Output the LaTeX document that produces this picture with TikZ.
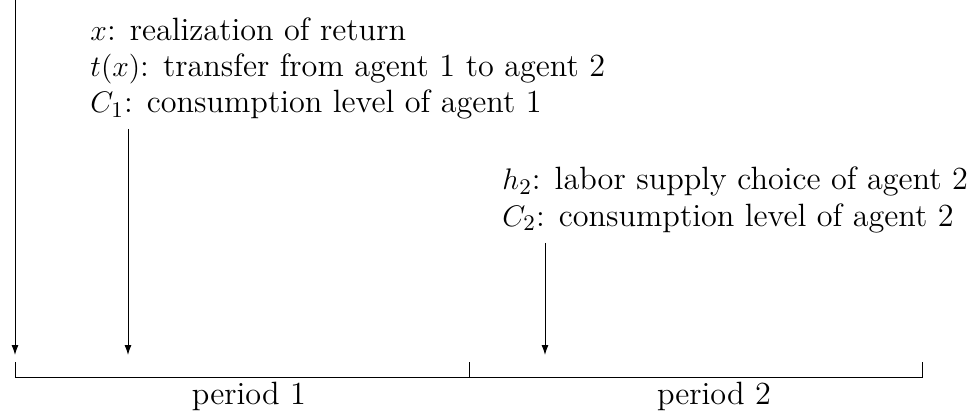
\documentclass[tikz,border=0pt]{standalone}
\usepackage{amsmath}
\usepackage{tikz}
\usetikzlibrary{positioning,arrows.meta,calc}

\begin{document}
\begin{tikzpicture}[x=0.4032pt,y=-0.4032pt,
  lab/.style={font=\fontsize{13}{16}\selectfont,inner sep=0pt,anchor=base west},
  per/.style={font=\fontsize{13}{16}\selectfont,inner sep=0pt,anchor=base},
  arr/.style={-{Latex[length=4pt,width=2.8pt]}}]
\useasboundingbox (0,0) rectangle (980,420);
% what is known when
\node[lab] (ret)  at (90,41)  {$x$: realization of return};
\node[lab] (tr)   at (90,77)  {$t(x)$: transfer from agent 1 to agent 2};
\node[lab] (cone) at (90,113) {$C_1$: consumption level of agent 1};
\node[lab] (lab2) at (502,190) {$h_2$: labor supply choice of agent 2};
\node[lab] (ctwo) at (502,226) {$C_2$: consumption level of agent 2};
% arrows down to the time line
\coordinate (s0) at (15,0);   \coordinate (e0) at (15,355);
\coordinate (s1) at (128,129); \coordinate (e1) at (128,355);
\coordinate (s2) at (545,243); \coordinate (e2) at (545,355);
\foreach \i in {0,1,2}{\draw[arr] (s\i)--(e\i);}
% time line
\coordinate (t0) at (15,377);
\coordinate (t1) at (469,377);
\coordinate (t2) at (922,377);
\draw ($(t0)+(0,-15)$)--(t0)--(t2)--++(0,-15);
\draw (t1)--++(0,-15);
\node[per] (p1) at (249,405) {period 1};
\node[per] (p2) at (714,405) {period 2};
\end{tikzpicture}
\end{document}
